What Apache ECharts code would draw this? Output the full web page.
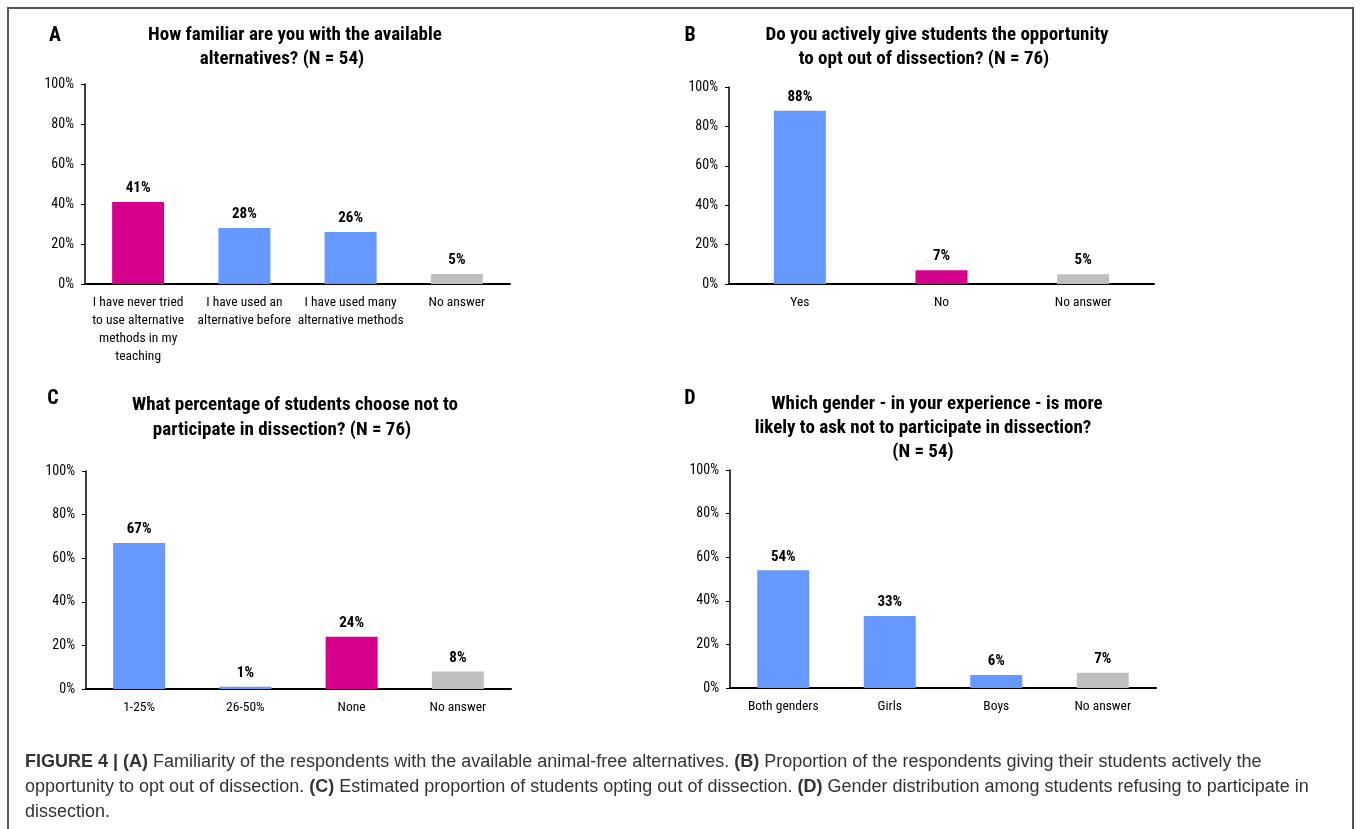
<!DOCTYPE html>
<html>
<head>
<meta charset="utf-8">
<script src="https://cdn.jsdelivr.net/npm/echarts@6/dist/echarts.min.js"></script>
<style>
html,body{margin:0;padding:0;background:#fff;}
#chart{width:1360px;height:829px;}
</style>
</head>
<body>
<div id="chart"></div>
<script>
// ---- data ----
const catsA = ['I have never tried\nto use alternative\nmethods in my\nteaching', 'I have used an\nalternative before', 'I have used many\nalternative methods', 'No answer'];
const valsA = [41, 28, 26, 5];
const catsB = ['Yes', 'No', 'No answer'];
const valsB = [88, 7, 5];
const catsC = ['1-25%', '26-50%', 'None', 'No answer'];
const valsC = [67, 1, 24, 8];
const catsD = ['Both genders', 'Girls', 'Boys', 'No answer'];
const valsD = [54, 33, 6, 7];
const yTickLabels = ['0%', '20%', '40%', '60%', '80%', '100%'];

// ---- style ----
const NARROW = '"Roboto Condensed", "Liberation Sans Narrow", "Arial Narrow", sans-serif';
const SANS = '"Liberation Sans", Arial, sans-serif';
const PINK = '#D5008C', BLUE = '#6699FF', GRAY = '#BFBFBF';
const highlightIdx = [0, 1, 2, -1];

const panels = [
  {cats: catsA, vals: valsA, grid: {left: 85, top: 84, width: 425, height: 200}},
  {cats: catsB, vals: valsB, grid: {left: 729, top: 87, width: 425, height: 197}},
  {cats: catsC, vals: valsC, grid: {left: 86, top: 471, width: 425, height: 218}},
  {cats: catsD, vals: valsD, grid: {left: 730, top: 470, width: 426, height: 218}}
];

function colorFor(p, cat, j) {
  if (cat === 'No answer') return GRAY;
  if (j === highlightIdx[p]) return PINK;
  return BLUE;
}

const grid = [], xAxis = [], yAxis = [], series = [];
panels.forEach((pn, i) => {
  grid.push(Object.assign({containLabel: false}, pn.grid));
  xAxis.push({
    type: 'category', gridIndex: i, data: pn.cats,
    axisLine: {show: true, lineStyle: {color: '#000', width: 2}},
    axisTick: {show: false},
    axisLabel: {color: '#000', fontFamily: NARROW, fontSize: 13.5, lineHeight: 18, margin: 10, interval: 0}
  });
  yAxis.push({
    type: 'value', gridIndex: i, min: 0, max: 100, interval: 20,
    axisLine: {show: true, lineStyle: {color: '#000', width: 1.5}},
    axisTick: {show: true, length: 4, lineStyle: {color: '#000', width: 1}},
    splitLine: {show: false},
    axisLabel: {color: '#000', fontFamily: NARROW, fontSize: 14, margin: 11,
      formatter: v => yTickLabels[Math.round(v / 20)]}
  });
  series.push({
    type: 'bar', xAxisIndex: i, yAxisIndex: i, barWidth: 52,
    data: pn.vals.map((v, j) => ({value: v, itemStyle: {color: colorFor(i, pn.cats[j], j)}})),
    label: {show: true, position: 'top', distance: 6, formatter: '{c}%',
      color: '#000', fontFamily: NARROW, fontSize: 15, fontWeight: 'bold'}
  });
});

function txt(x, y, s, opts) {
  return {type: 'text', x: x, y: y, silent: true,
    style: Object.assign({text: s, fill: '#000', align: 'center', verticalAlign: 'middle',
      font: 'bold 19px ' + NARROW}, opts || {})};
}

const titles = [
  txt(295, 35, 'How familiar are you with the available'),
  txt(282, 59, 'alternatives? (N = 54)'),
  txt(937, 35, 'Do you actively give students the opportunity'),
  txt(924, 59, 'to opt out of dissection? (N = 76)'),
  txt(295, 405, 'What percentage of students choose not to'),
  txt(282, 430, 'participate in dissection? (N = 76)'),
  txt(937, 404, 'Which gender - in your experience - is more'),
  txt(923, 428, 'likely to ask not to participate in dissection?'),
  txt(923, 452, '(N = 54)'),
  txt(55, 36, 'A', {font: 'bold 20px ' + NARROW}),
  txt(690, 36, 'B', {font: 'bold 20px ' + NARROW}),
  txt(53, 399, 'C', {font: 'bold 20px ' + NARROW}),
  txt(690, 399, 'D', {font: 'bold 20px ' + NARROW})
];

const caption = {
  type: 'text', x: 25, y: 750, silent: true,
  style: {
    text: '{b|FIGURE 4 | (A)} Familiarity of the respondents with the available animal-free alternatives. {b|(B)} Proportion of the respondents giving their students actively the\n' +
          'opportunity to opt out of dissection. {b|(C)} Estimated proportion of students opting out of dissection. {b|(D)} Gender distribution among students refusing to participate in\n' +
          'dissection.',
    fill: '#333', font: '18px ' + SANS, lineHeight: 25,
    align: 'left', verticalAlign: 'top',
    rich: {b: {fontWeight: 'bold', fill: '#333', fontSize: 18, fontFamily: SANS, lineHeight: 25}}
  }
};

const border = {
  type: 'rect', silent: true,
  shape: {x: 8, y: 8, width: 1345, height: 900},
  style: {fill: 'none', stroke: '#555', lineWidth: 2}
};

const chart = echarts.init(document.getElementById('chart'));
chart.setOption({
  animation: false,
  backgroundColor: '#fff',
  grid: grid, xAxis: xAxis, yAxis: yAxis, series: series,
  graphic: [border].concat(titles, [caption])
});
</script>
</body>
</html>
